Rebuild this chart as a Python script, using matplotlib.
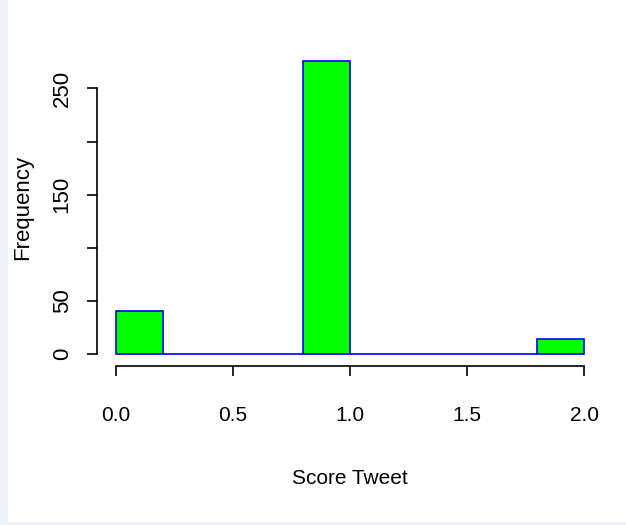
import matplotlib
matplotlib.use('Agg')
import matplotlib.pyplot as plt
from matplotlib.patches import Rectangle

# histogram of tweet scores, bin width 0.2
bin_edges = [0.0, 0.2, 0.4, 0.6, 0.8, 1.0, 1.2, 1.4, 1.6, 1.8, 2.0]
counts = [41, 0, 0, 0, 276, 0, 0, 0, 0, 14]
x_ticks = [0.0, 0.5, 1.0, 1.5, 2.0]
x_labels = ['0.0', '0.5', '1.0', '1.5', '2.0']
y_ticks = [0, 50, 100, 150, 200, 250]
y_labels = ['0', '50', '', '150', '', '250']

plt.rcParams['font.family'] = ['Liberation Sans', 'DejaVu Sans']

fig = plt.figure(figsize=(6.26, 5.25), dpi=100)
fig.patches.append(Rectangle((0, 0), 8 / 626, 1, transform=fig.transFigure,
                             facecolor='#eef2f9', edgecolor='none'))
fig.patches.append(Rectangle((0, 0), 1, 3 / 525, transform=fig.transFigure,
                             facecolor='#eef2f9', edgecolor='none'))

ax = fig.add_axes([97 / 626, (525 - 366) / 525, 506 / 626, 319 / 525])

widths = [bin_edges[i + 1] - bin_edges[i] for i in range(len(counts))]
ax.bar(bin_edges[:-1], counts, width=widths, align='edge',
       color='#00ff00', edgecolor='#0000ff', linewidth=1.2)

ax.set_xlim(-0.08, 2.08)
ax.set_ylim(-11.1, 289)

for s in ['top', 'right']:
    ax.spines[s].set_visible(False)
ax.spines['left'].set_bounds(0, 250)
ax.spines['bottom'].set_bounds(0, 2)
ax.spines['left'].set_linewidth(1.2)
ax.spines['bottom'].set_linewidth(1.2)

ax.set_xticks(x_ticks)
ax.set_xticklabels(x_labels, fontsize=15)
ax.set_yticks(y_ticks)
ax.set_yticklabels(y_labels, rotation=90, va='center', fontsize=16)
ax.tick_params(direction='out', length=7.5, width=1.2, color='black')
ax.tick_params(axis='x', pad=21)
ax.tick_params(axis='y', pad=10)

ax.set_xlabel('Score Tweet', fontsize=15, labelpad=32)
ax.set_ylabel('Frequency', fontsize=16)
ax.yaxis.set_label_coords(-0.127, 0.498)

fig.savefig('out.png', dpi=100)
